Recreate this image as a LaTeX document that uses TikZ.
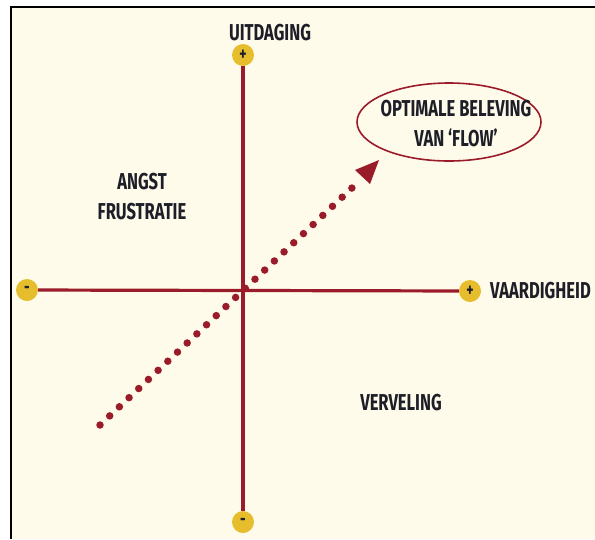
\documentclass[tikz,border=0pt]{standalone}
\usepackage{fontspec}
\setmainfont{Fira Sans}[FakeStretch=0.72]
\usetikzlibrary{shapes.geometric}
\definecolor{cream}{HTML}{FFFBEA}
\definecolor{axisred}{HTML}{9A1C2A}
\definecolor{signyel}{HTML}{E6BD2C}
\definecolor{ink}{HTML}{1E1E28}
\tikzset{
  axis/.style={draw=axisred, line width=3.2pt},
  sign/.style={circle, fill=signyel, minimum size=22pt, inner sep=0pt, text=ink, font=\fontsize{19pt}{19pt}\selectfont\bfseries},
  lbl/.style={text=ink, font=\fontsize{23pt}{30pt}\selectfont\bfseries, align=center, inner sep=0pt},
  dotline/.style={draw=axisred, line width=7.5pt, line cap=round, dash pattern=on 0pt off 13.3pt},
  bubble/.style={draw=axisred, line width=1.6pt, fill=cream},
}
\begin{document}
\begin{tikzpicture}[x=1pt, y=-1pt]
\useasboundingbox (0,0) rectangle (595,539);
\fill[cream] (11,7) rectangle (595,539);
\draw[line width=2.2pt] (11,539) -- (11,7) -- (595,7);
% signs
\node[sign] (top) at (243,55) {+};
\node[sign] (bot) at (243,522) {-};
\node[sign] (left) at (27,290) {-};
\node[sign] (right) at (470,291) {+};
\draw[axis] (top) -- (bot);
\draw[axis] (left) -- (right);
% labels
\node[lbl] (uit) at (270,33) {UITDAGING};
\node[lbl, anchor=west] (vaa) at (490,291) {VAARDIGHEID};
\node[lbl] (angst) at (142,197) {ANGST\\FRUSTRATIE};
\node[lbl] (verv) at (401,403) {VERVELING};
% bubble
\draw[bubble] (449,122) ellipse [x radius=92, y radius=39];
\node[lbl] (flowtxt) at (456,124) {OPTIMALE BELEVING\\VAN `FLOW'};
% dotted arrow
\coordinate (s) at (100,425);
\coordinate (e) at (353,187);
\draw[dotline] (s) -- (e);
\fill[axisred] (379,160) -- (355,170) -- (370,184) -- cycle;
\end{tikzpicture}
\end{document}
